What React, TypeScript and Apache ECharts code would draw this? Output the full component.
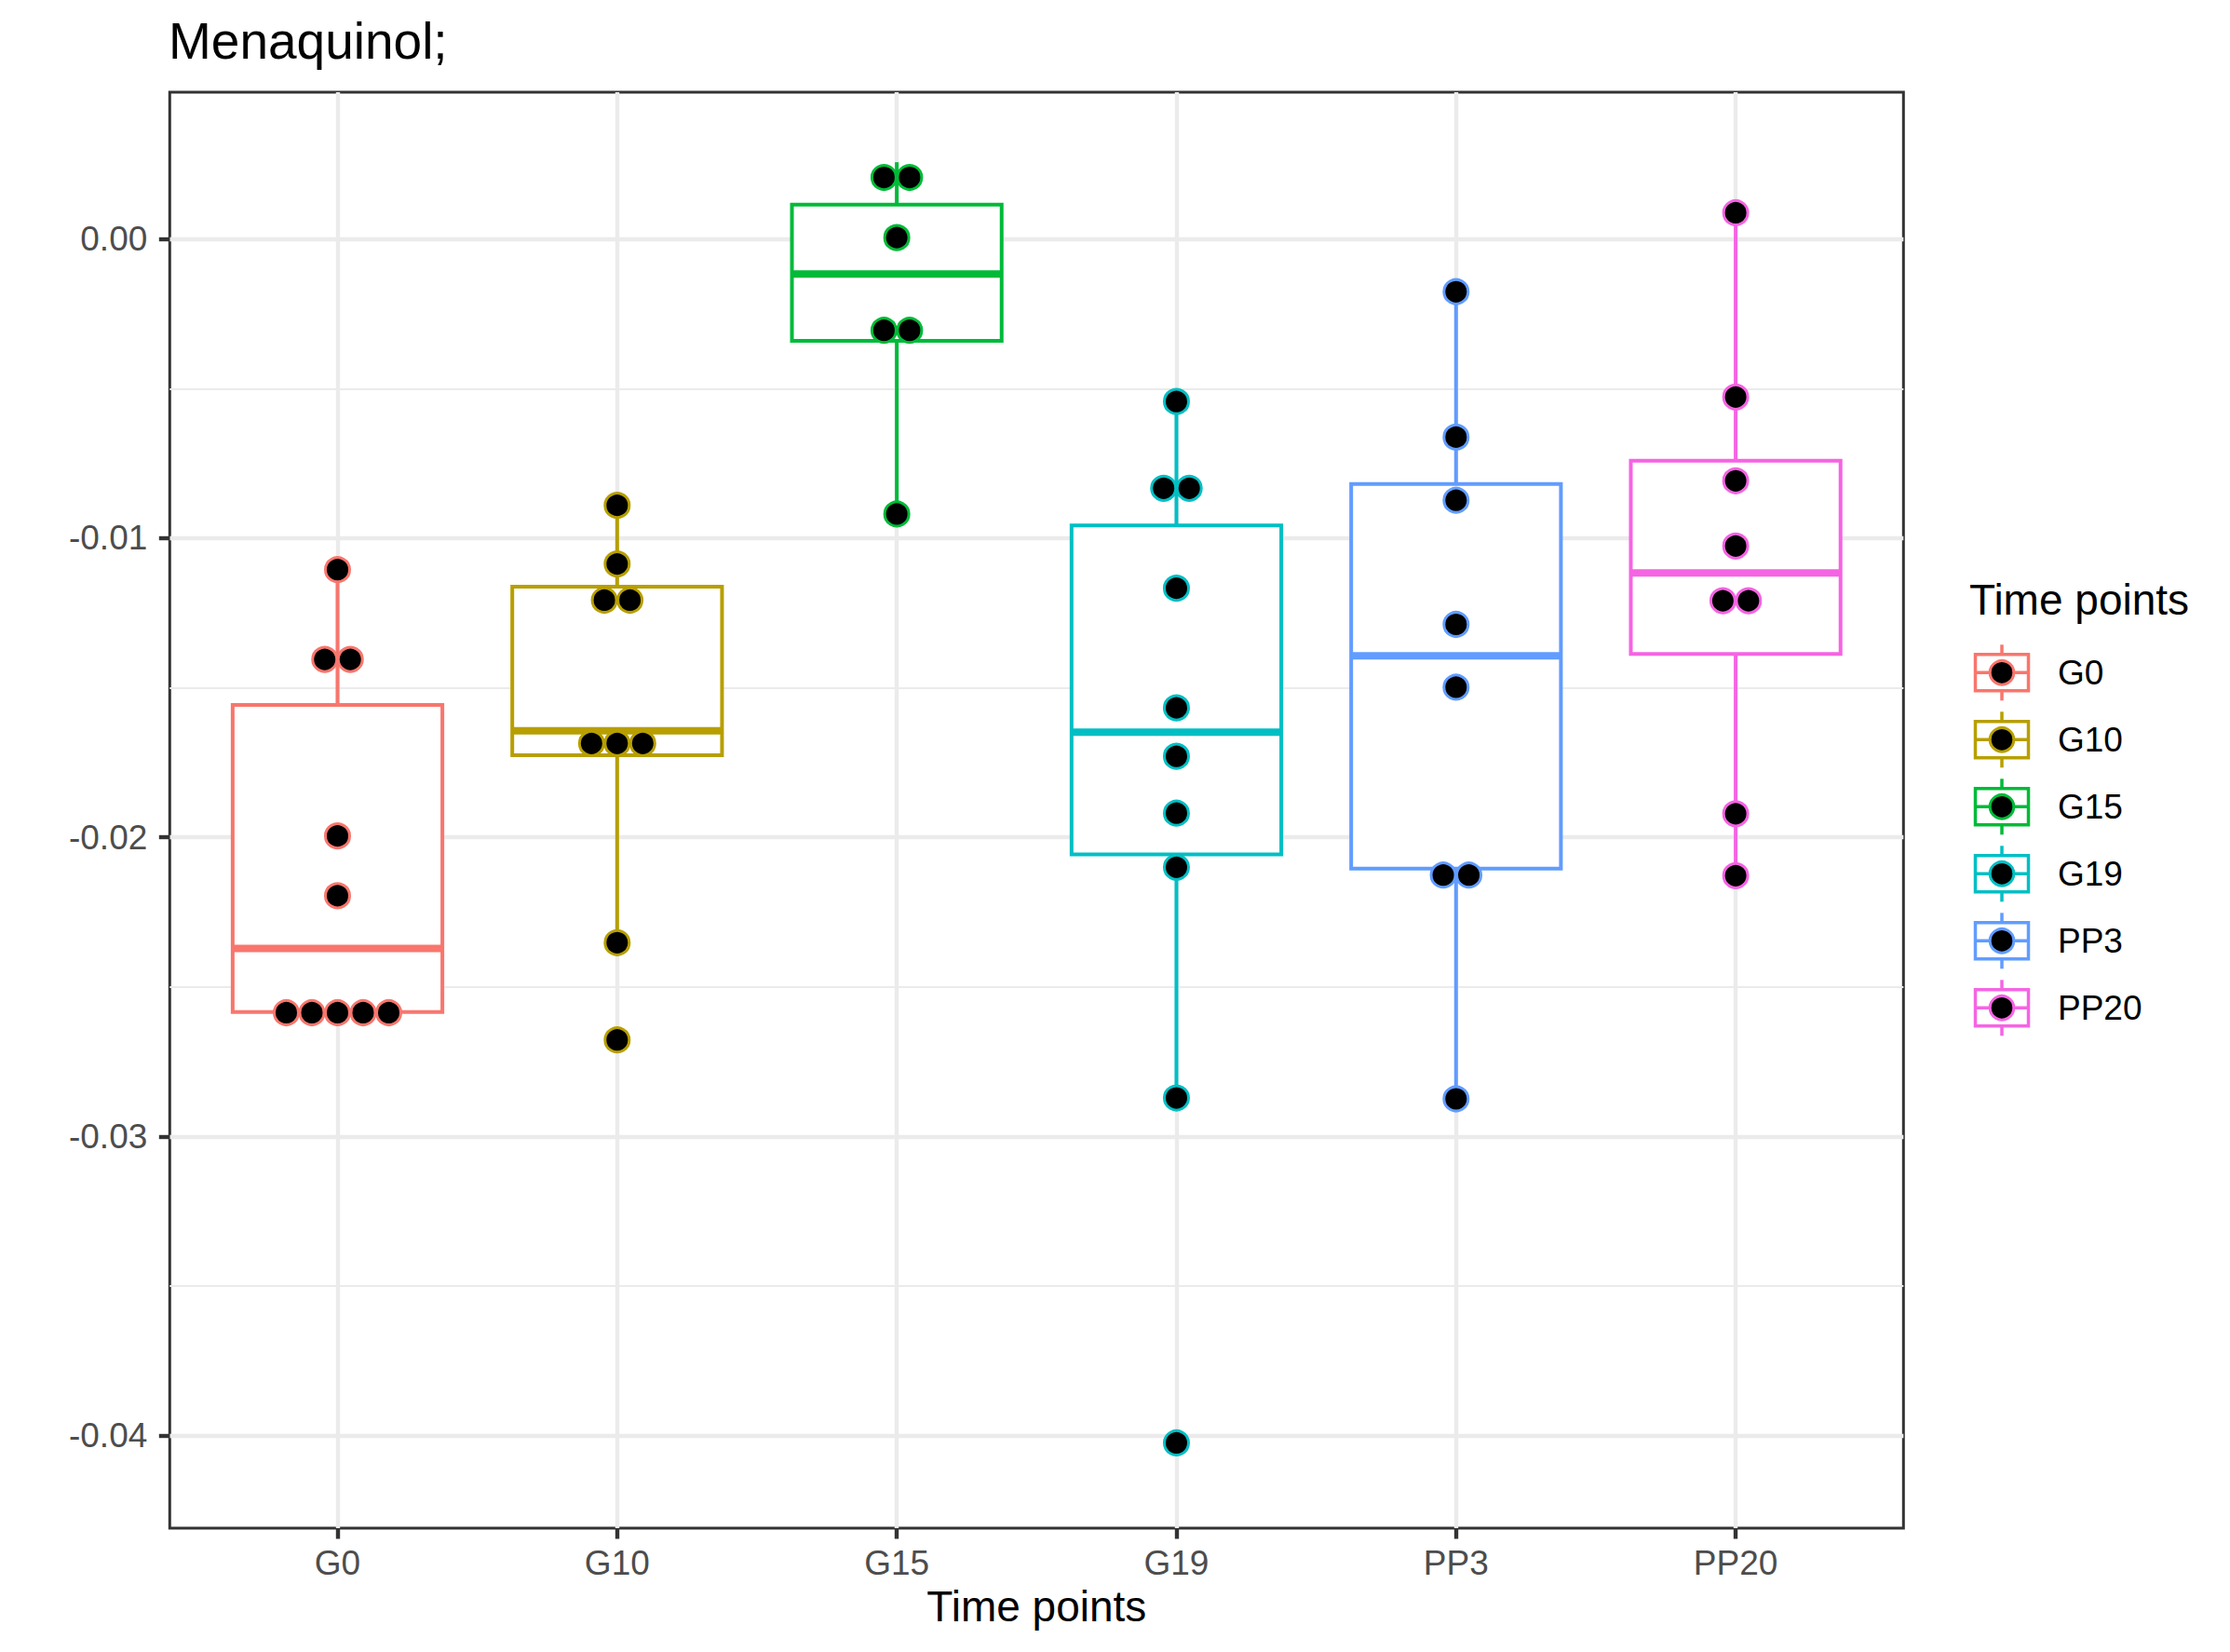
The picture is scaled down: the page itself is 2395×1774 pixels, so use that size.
import React, { useEffect, useRef } from "react";
import * as echarts from "echarts";

const TITLE = "Menaquinol;";
const X_TITLE = "Time points";
const LEGEND_TITLE = "Time points";
const CATEGORIES = ["G0", "G10", "G15", "G19", "PP3", "PP20"];
const COLORS = ["#F8766D", "#B79F00", "#00BA38", "#00BFC4", "#619CFF", "#F564E3"];

// dot (binned) values per group
const G0_POINTS = [-0.01105, -0.01405, -0.01405, -0.01995, -0.02195, -0.02586, -0.02586, -0.02586, -0.02586, -0.02586];
const G10_POINTS = [-0.0089, -0.01086, -0.01207, -0.01207, -0.01686, -0.01686, -0.01686, -0.02352, -0.02677];
const G15_POINTS = [0.00206, 0.00206, 0.00005, -0.00305, -0.00305, -0.00919];
const G19_POINTS = [-0.00543, -0.00833, -0.00833, -0.01167, -0.01567, -0.01729, -0.01919, -0.021, -0.02871, -0.04024];
const PP3_POINTS = [-0.00176, -0.00662, -0.00873, -0.01288, -0.01498, -0.02126, -0.02126, -0.02874];
const PP20_POINTS = [0.00088, -0.00528, -0.00808, -0.01026, -0.01209, -0.01209, -0.01921, -0.02128];
const POINTS = [G0_POINTS, G10_POINTS, G15_POINTS, G19_POINTS, PP3_POINTS, PP20_POINTS];

// box statistics per group
const WHISKER_LOW = [-0.02584, -0.02352, -0.00919, -0.02871, -0.02874, -0.02128];
const Q1 = [-0.02584, -0.01725, -0.0034, -0.02057, -0.02104, -0.01387];
const MEDIAN = [-0.02371, -0.01644, -0.00117, -0.01648, -0.01393, -0.01116];
const Q3 = [-0.01557, -0.01162, 0.00115, -0.00957, -0.00819, -0.00741];
const WHISKER_HIGH = [-0.01105, -0.0089, 0.00257, -0.00543, -0.00176, 0.00088];

const Y_MAJOR = [0, -0.01, -0.02, -0.03, -0.04];
const Y_MINOR = [-0.005, -0.015, -0.025, -0.035];
const Y_MIN = -0.04309;
const Y_MAX = 0.00491;
const X_MIN = -0.6;
const X_MAX = 5.6;
const X_TICKS = [0, 1, 2, 3, 4, 5];

const FONT = "'Liberation Sans', Arial, Helvetica, sans-serif";
const DOT_SPACING = 27.5;

function stackedPoints(values: number[], gi: number) {
  const counts: Record<string, number> = {};
  values.forEach((v) => {
    counts[String(v)] = (counts[String(v)] || 0) + 1;
  });
  const seen: Record<string, number> = {};
  return values.map((v) => {
    const key = String(v);
    const n = counts[key];
    const k = seen[key] || 0;
    seen[key] = k + 1;
    const dx = (k - (n - 1) / 2) * DOT_SPACING;
    return { value: [gi, v], symbolOffset: [dx, 0] };
  });
}

export default function App() {
  const ref = useRef<HTMLDivElement>(null);

  useEffect(() => {
    if (!ref.current) return;
    const chart = echarts.init(ref.current, null, { renderer: "svg" });

    const boxData = CATEGORIES.map((_, i) => [i, WHISKER_LOW[i], Q1[i], MEDIAN[i], Q3[i], WHISKER_HIGH[i]]);

    const scatterSeries = POINTS.map((vals, gi) => ({
      type: "scatter",
      name: CATEGORIES[gi],
      xAxisIndex: 0,
      yAxisIndex: 0,
      z: 5,
      symbol: "circle",
      symbolSize: 26,
      itemStyle: { color: "#000000", borderColor: COLORS[gi], borderWidth: 3, opacity: 1 },
      data: stackedPoints(vals, gi),
      silent: true,
    }));

    // legend built from graphic elements
    const legendChildren: any[] = [];
    legendChildren.push({
      type: "text",
      x: 2115,
      y: 644,
      style: { text: LEGEND_TITLE, font: `46px ${FONT}`, fill: "#000000", align: "left", verticalAlign: "middle" },
    });
    CATEGORIES.forEach((c, i) => {
      const cy = 722.3 + i * 72;
      const cx = 2150;
      const col = COLORS[i];
      legendChildren.push(
        { type: "line", shape: { x1: cx, y1: cy - 30, x2: cx, y2: cy + 30 }, style: { stroke: col, lineWidth: 3.5 } },
        { type: "rect", shape: { x: cx - 28.5, y: cy - 19.5, width: 57, height: 39 }, style: { fill: "#ffffff", stroke: col, lineWidth: 3.5 } },
        { type: "line", shape: { x1: cx - 28.5, y1: cy, x2: cx + 28.5, y2: cy }, style: { stroke: col, lineWidth: 3.5 } },
        { type: "circle", shape: { cx, cy, r: 12.8 }, style: { fill: "#000000", stroke: col, lineWidth: 3 } },
        {
          type: "text",
          x: 2210,
          y: cy,
          style: { text: c, font: `37px ${FONT}`, fill: "#000000", align: "left", verticalAlign: "middle" },
        }
      );
    });

    chart.setOption({
      animation: false,
      backgroundColor: "#ffffff",
      textStyle: { fontFamily: FONT },
      grid: {
        left: 182.3,
        top: 99,
        width: 1862,
        height: 1542,
        show: true,
        borderColor: "#333333",
        borderWidth: 3,
        backgroundColor: "#ffffff",
        containLabel: false,
      },
      xAxis: {
        type: "value",
        min: X_MIN,
        max: X_MAX,
        position: "bottom",
        name: X_TITLE,
        nameLocation: "middle",
        nameGap: 61,
        nameTextStyle: { fontSize: 46, color: "#000000", fontFamily: FONT },
        axisLine: { show: false, onZero: false },
        axisTick: { show: true, length: 11.5, customValues: X_TICKS, lineStyle: { color: "#333333", width: 4.4 } },
        axisLabel: {
          show: true,
          customValues: X_TICKS,
          margin: 19,
          fontSize: 37,
          color: "#4D4D4D",
          fontFamily: FONT,
          formatter: (v: number) => CATEGORIES[Math.round(v)] ?? "",
        },
        splitLine: { show: true, lineStyle: { color: "#EBEBEB", width: 4.4 } },
      },
      yAxis: [
        {
          type: "value",
          min: Y_MIN,
          max: Y_MAX,
          position: "left",
          axisLine: { show: false, onZero: false },
          axisTick: { show: true, length: 11.5, customValues: Y_MAJOR, lineStyle: { color: "#333333", width: 4.4 } },
          axisLabel: {
            show: true,
            customValues: Y_MAJOR,
            margin: 24,
            fontSize: 37,
            color: "#4D4D4D",
            fontFamily: FONT,
            formatter: (v: number) => (Math.abs(v) < 1e-12 ? 0 : v).toFixed(2),
          },
          splitLine: { show: true, lineStyle: { color: "#EBEBEB", width: 4.4 } },
        },
        {
          type: "value",
          min: Y_MIN,
          max: Y_MAX,
          position: "left",
          axisLine: { show: false, onZero: false },
          axisTick: { show: false, customValues: Y_MINOR },
          axisLabel: { show: false, customValues: Y_MINOR },
          splitLine: { show: true, lineStyle: { color: "#EBEBEB", width: 2.2 } },
        },
      ],
      series: [
        {
          type: "custom",
          name: "boxes",
          xAxisIndex: 0,
          yAxisIndex: 0,
          z: 3,
          silent: true,
          encode: { x: 0, y: [1, 2, 3, 4, 5] },
          data: boxData,
          renderItem: (params: any, api: any) => {
            const x = api.value(0);
            const low = api.coord([x, api.value(1)]);
            const q1 = api.coord([x, api.value(2)]);
            const med = api.coord([x, api.value(3)]);
            const q3 = api.coord([x, api.value(4)]);
            const high = api.coord([x, api.value(5)]);
            const w = api.size([0.75, 0])[0];
            const col = COLORS[params.dataIndex];
            return {
              type: "group",
              children: [
                { type: "line", shape: { x1: low[0], y1: low[1], x2: q1[0], y2: q1[1] }, style: { stroke: col, lineWidth: 4 } },
                { type: "line", shape: { x1: q3[0], y1: q3[1], x2: high[0], y2: high[1] }, style: { stroke: col, lineWidth: 4 } },
                {
                  type: "rect",
                  shape: { x: q1[0] - w / 2, y: q3[1], width: w, height: q1[1] - q3[1] },
                  style: { fill: "#ffffff", stroke: col, lineWidth: 4 },
                },
                {
                  type: "line",
                  shape: { x1: med[0] - w / 2, y1: med[1], x2: med[0] + w / 2, y2: med[1] },
                  style: { stroke: col, lineWidth: 8 },
                },
              ],
            };
          },
        },
        ...scatterSeries,
      ],
      graphic: [
        {
          type: "text",
          x: 181,
          y: 44,
          style: { text: TITLE, font: `55px ${FONT}`, fill: "#000000", align: "left", verticalAlign: "middle" },
        },
        { type: "group", children: legendChildren },
      ],
    });

    return () => chart.dispose();
  }, []);

  return <div ref={ref} style={{ position: "absolute", left: 0, top: 0, width: 2395, height: 1774 }} />;
}
